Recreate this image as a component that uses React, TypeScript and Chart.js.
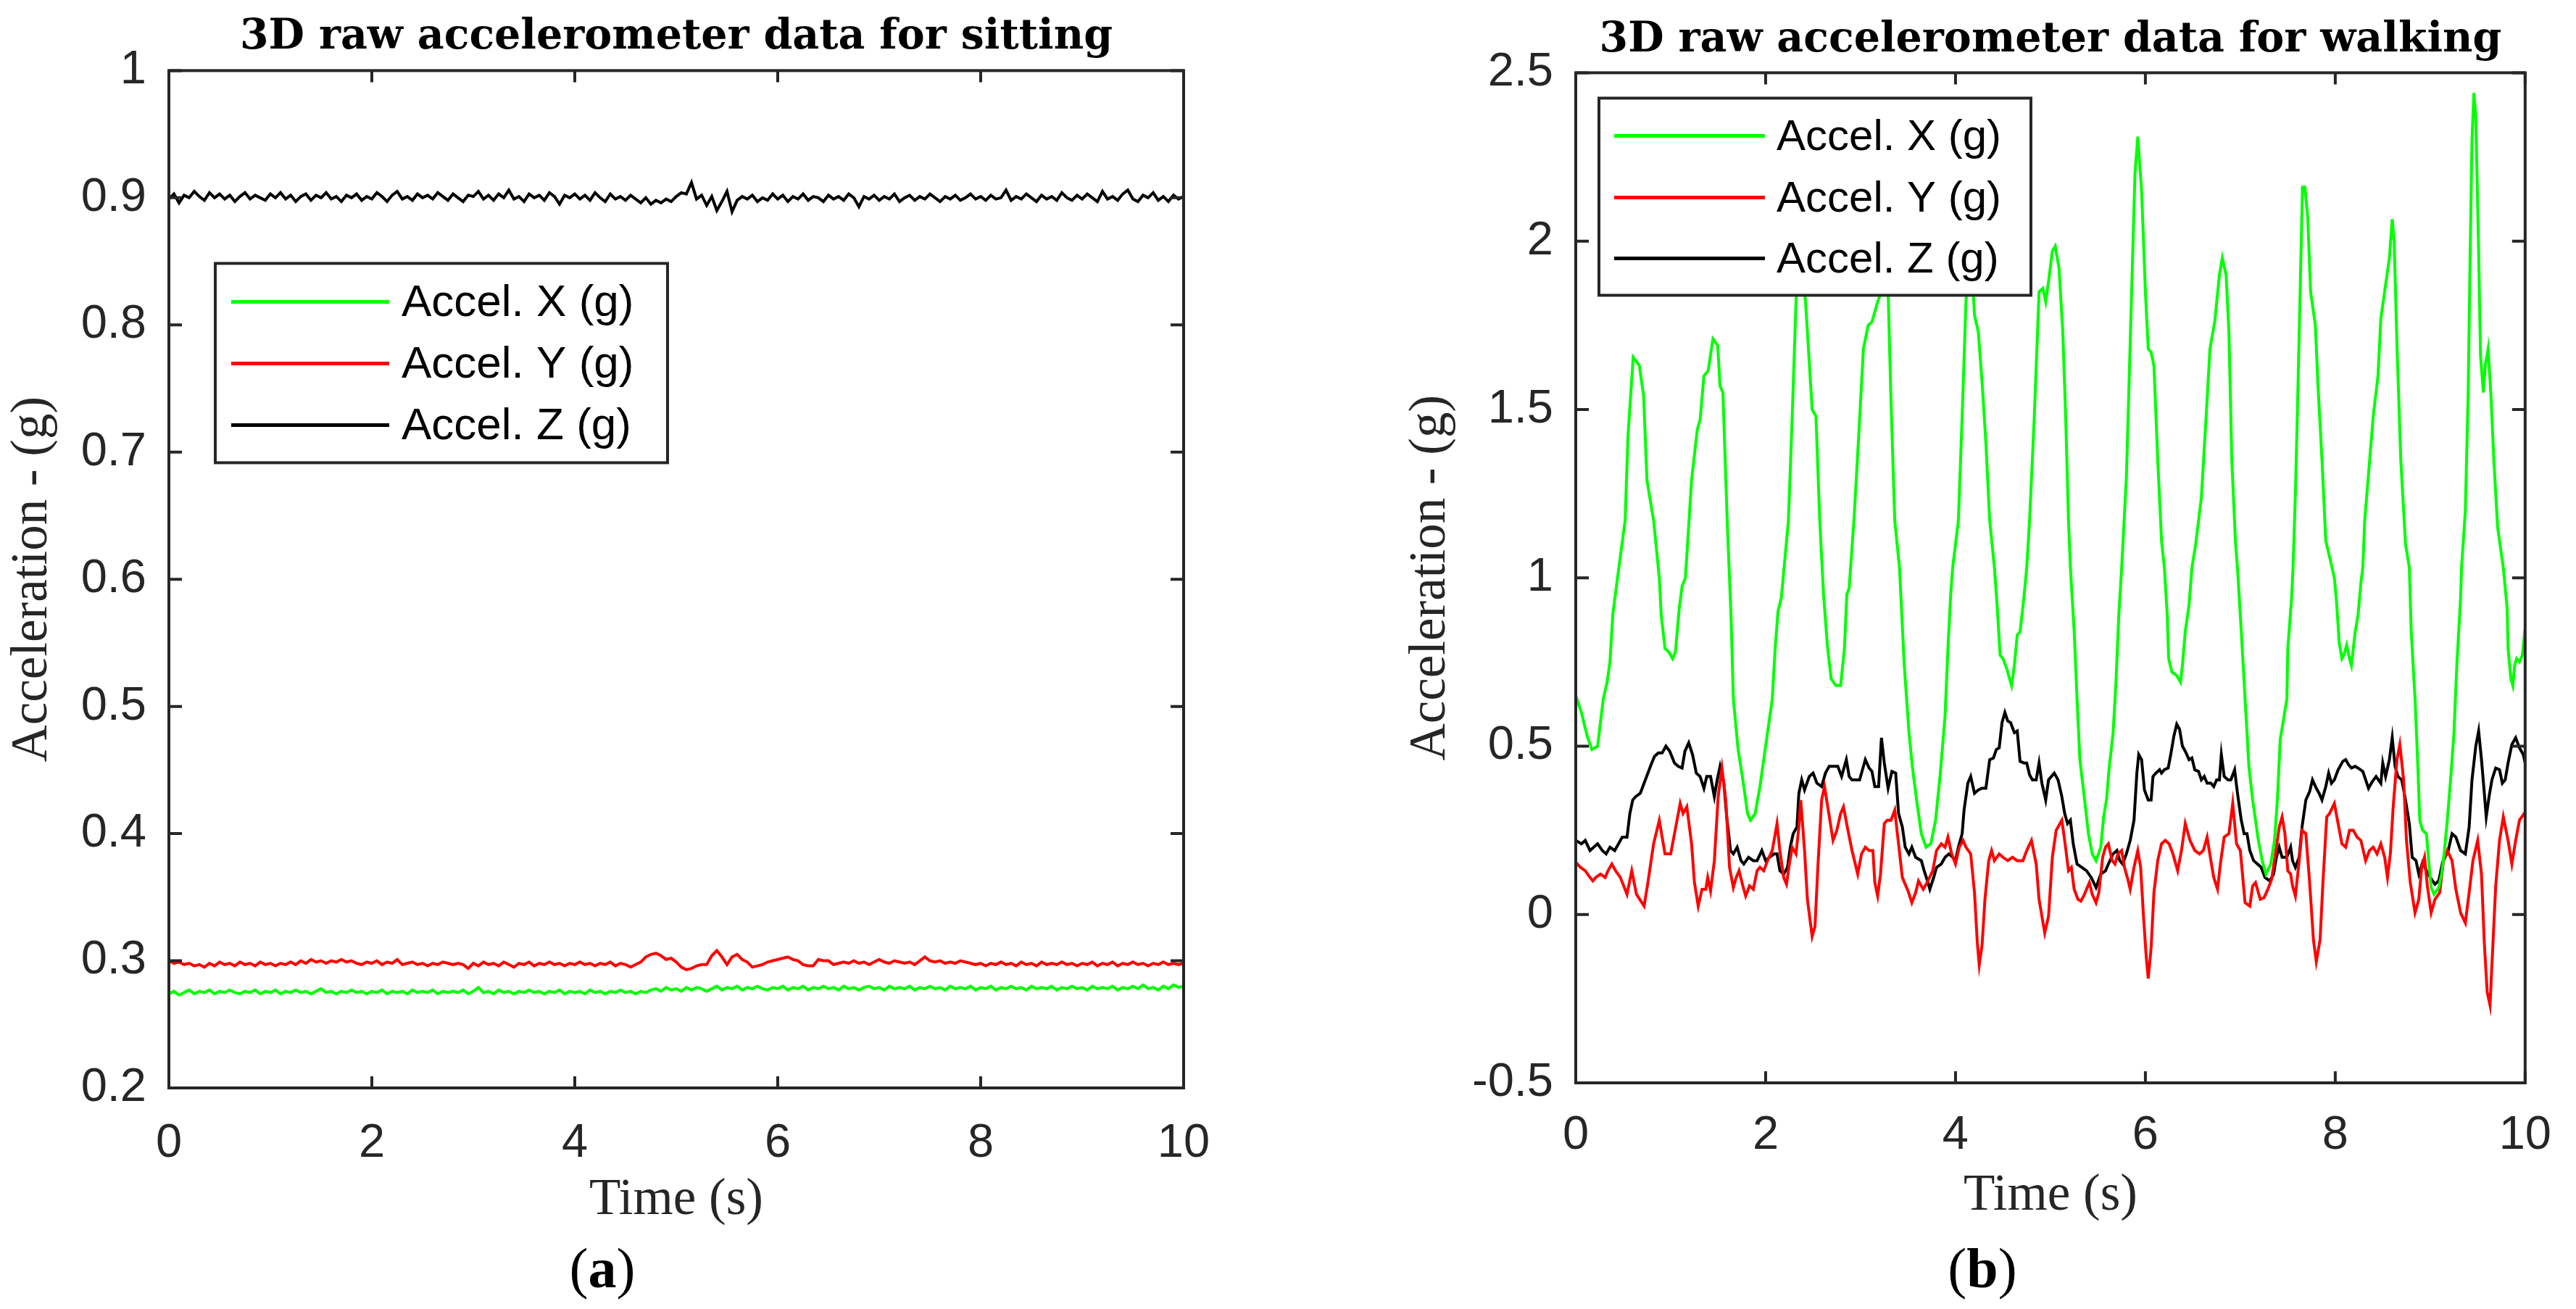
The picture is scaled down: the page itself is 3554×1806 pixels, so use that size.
import { useEffect, useRef } from "react";
import Chart from "chart.js/auto";

// sitting: one sample every 0.05 s, 0..10 s
const SIT_STEP = 0.05;

const sitAccelX = [
    0.274, 0.276, 0.273, 0.275, 0.277, 0.274, 0.276, 0.275, 0.277, 0.274, 0.276, 0.275, 0.277, 0.275, 0.274, 0.276, 0.275, 0.277, 0.274, 0.276,
    0.275, 0.277, 0.274, 0.276, 0.275, 0.277, 0.275, 0.276, 0.274, 0.276, 0.278, 0.275, 0.276, 0.274, 0.276, 0.275, 0.277, 0.275, 0.276, 0.274,
    0.276, 0.275, 0.277, 0.274, 0.276, 0.275, 0.276, 0.274, 0.277, 0.275, 0.276, 0.275, 0.277, 0.274, 0.276, 0.275, 0.276, 0.275, 0.277, 0.274,
    0.276, 0.279, 0.275, 0.276, 0.274, 0.277, 0.275, 0.276, 0.274, 0.276, 0.275, 0.277, 0.275, 0.276, 0.274, 0.276, 0.275, 0.277, 0.274, 0.276,
    0.275, 0.276, 0.274, 0.277, 0.275, 0.276, 0.274, 0.276, 0.275, 0.277, 0.275, 0.276, 0.274, 0.276, 0.275, 0.277, 0.278, 0.276, 0.279, 0.277,
    0.278, 0.276, 0.279, 0.277, 0.279, 0.278, 0.276, 0.278, 0.280, 0.277, 0.279, 0.278, 0.280, 0.277, 0.279, 0.278, 0.280, 0.278, 0.277, 0.279,
    0.278, 0.280, 0.277, 0.279, 0.278, 0.280, 0.277, 0.279, 0.278, 0.280, 0.278, 0.279, 0.277, 0.280, 0.278, 0.279, 0.277, 0.279, 0.280, 0.278,
    0.279, 0.277, 0.280, 0.278, 0.279, 0.278, 0.280, 0.277, 0.279, 0.278, 0.280, 0.278, 0.279, 0.277, 0.280, 0.278, 0.279, 0.278, 0.280, 0.277,
    0.279, 0.278, 0.280, 0.277, 0.279, 0.278, 0.280, 0.278, 0.279, 0.277, 0.280, 0.278, 0.279, 0.278, 0.280, 0.277, 0.279, 0.278, 0.280, 0.278,
    0.279, 0.277, 0.280, 0.278, 0.279, 0.278, 0.280, 0.277, 0.279, 0.278, 0.280, 0.278, 0.281, 0.278, 0.279, 0.277, 0.280, 0.278, 0.281, 0.279, 0.280
];

const sitAccelY = [
    0.300, 0.298, 0.299, 0.297, 0.298, 0.296, 0.297, 0.295, 0.298, 0.296, 0.299, 0.297, 0.298, 0.296, 0.299, 0.297, 0.298, 0.296, 0.299, 0.297,
    0.298, 0.296, 0.298, 0.297, 0.299, 0.297, 0.300, 0.298, 0.301, 0.299, 0.300, 0.298, 0.300, 0.299, 0.301, 0.299, 0.300, 0.298, 0.297, 0.299,
    0.298, 0.300, 0.297, 0.299, 0.298, 0.301, 0.297, 0.298, 0.299, 0.297, 0.298, 0.296, 0.298, 0.297, 0.299, 0.298, 0.297, 0.298, 0.297, 0.294,
    0.298, 0.296, 0.299, 0.297, 0.298, 0.296, 0.299, 0.297, 0.295, 0.298, 0.297, 0.299, 0.296, 0.298, 0.297, 0.299, 0.297, 0.298, 0.296, 0.298,
    0.297, 0.299, 0.297, 0.298, 0.296, 0.298, 0.297, 0.299, 0.296, 0.298, 0.297, 0.295, 0.297, 0.299, 0.303, 0.305, 0.306, 0.304, 0.301, 0.302,
    0.299, 0.295, 0.293, 0.294, 0.296, 0.297, 0.297, 0.304, 0.308, 0.303, 0.297, 0.303, 0.305, 0.301, 0.299, 0.295, 0.296, 0.297, 0.299, 0.300,
    0.301, 0.302, 0.303, 0.301, 0.300, 0.297, 0.296, 0.296, 0.301, 0.300, 0.300, 0.297, 0.298, 0.299, 0.298, 0.300, 0.298, 0.299, 0.297, 0.299,
    0.301, 0.299, 0.298, 0.300, 0.299, 0.298, 0.299, 0.297, 0.300, 0.303, 0.300, 0.299, 0.300, 0.298, 0.299, 0.298, 0.300, 0.299, 0.298, 0.297,
    0.298, 0.296, 0.298, 0.297, 0.299, 0.297, 0.298, 0.296, 0.299, 0.297, 0.298, 0.296, 0.299, 0.297, 0.298, 0.297, 0.299, 0.297, 0.298, 0.296,
    0.298, 0.297, 0.299, 0.296, 0.298, 0.297, 0.299, 0.296, 0.298, 0.297, 0.299, 0.297, 0.298, 0.296, 0.298, 0.297, 0.299, 0.297, 0.298, 0.297, 0.298
];

const sitAccelZ = [
    0.899, 0.903, 0.896, 0.902, 0.900, 0.905, 0.901, 0.898, 0.904, 0.900, 0.903, 0.899, 0.902, 0.897, 0.901, 0.904, 0.899, 0.902, 0.900, 0.898,
    0.903, 0.900, 0.904, 0.899, 0.902, 0.897, 0.901, 0.903, 0.898, 0.902, 0.900, 0.904, 0.899, 0.901, 0.897, 0.902, 0.900, 0.903, 0.898, 0.901,
    0.899, 0.904, 0.901, 0.897, 0.902, 0.905, 0.899, 0.901, 0.898, 0.903, 0.900, 0.902, 0.899, 0.904, 0.901, 0.898, 0.903, 0.900, 0.897, 0.902,
    0.901, 0.905, 0.899, 0.902, 0.898, 0.903, 0.900, 0.906, 0.899, 0.901, 0.897, 0.903, 0.900, 0.902, 0.898, 0.904, 0.901, 0.895, 0.902, 0.900,
    0.903, 0.899, 0.902, 0.898, 0.904, 0.900, 0.897, 0.903, 0.899, 0.901, 0.898, 0.902, 0.899, 0.896, 0.900, 0.895, 0.898, 0.896, 0.899, 0.897,
    0.901, 0.904, 0.903, 0.912, 0.899, 0.902, 0.894, 0.901, 0.890, 0.897, 0.905, 0.889, 0.898, 0.901, 0.899, 0.902, 0.897, 0.900, 0.898, 0.903,
    0.899, 0.902, 0.897, 0.901, 0.899, 0.903, 0.898, 0.901, 0.900, 0.897, 0.902, 0.899, 0.901, 0.898, 0.903, 0.900, 0.893, 0.901, 0.899, 0.902,
    0.898, 0.901, 0.899, 0.903, 0.897, 0.900, 0.902, 0.898, 0.901, 0.899, 0.903, 0.900, 0.897, 0.901, 0.899, 0.902, 0.898, 0.900, 0.903, 0.899,
    0.901, 0.898, 0.902, 0.899, 0.900, 0.906, 0.898, 0.901, 0.899, 0.903, 0.900, 0.897, 0.902, 0.899, 0.901, 0.898, 0.904, 0.900, 0.898, 0.902,
    0.899, 0.903, 0.900, 0.897, 0.905, 0.899, 0.901, 0.898, 0.903, 0.906, 0.899, 0.897, 0.902, 0.900, 0.904, 0.898, 0.901, 0.897, 0.902, 0.899, 0.901
];

// walking: [time (s), acceleration (g)]
const walkAccelX: [number, number][] = [
    [0.00, 0.65], [0.06, 0.60], [0.12, 0.53], [0.17, 0.49], [0.23, 0.50], [0.29, 0.64], [0.33, 0.69], [0.36, 0.75],
    [0.39, 0.89], [0.44, 1.00], [0.52, 1.17], [0.55, 1.42], [0.605, 1.655], [0.67, 1.63], [0.715, 1.54], [0.75, 1.29],
    [0.82, 1.17], [0.88, 1.00], [0.90, 0.89], [0.94, 0.79], [0.98, 0.78], [1.02, 0.76], [1.05, 0.78], [1.09, 0.91],
    [1.12, 0.975], [1.155, 1.00], [1.22, 1.29], [1.28, 1.44], [1.31, 1.47], [1.35, 1.60], [1.395, 1.615], [1.445, 1.71],
    [1.495, 1.69], [1.52, 1.57], [1.55, 1.55], [1.595, 1.17], [1.635, 0.89], [1.66, 0.64], [1.71, 0.49], [1.76, 0.40],
    [1.81, 0.30], [1.84, 0.28], [1.89, 0.30], [1.94, 0.38], [1.99, 0.48], [2.03, 0.56], [2.07, 0.64], [2.10, 0.79],
    [2.13, 0.90], [2.165, 0.94], [2.24, 1.17], [2.28, 1.48], [2.32, 1.82], [2.37, 2.02], [2.42, 1.82], [2.44, 1.73],
    [2.49, 1.50], [2.53, 1.48], [2.57, 1.17], [2.61, 0.95], [2.65, 0.80], [2.69, 0.70], [2.74, 0.68], [2.79, 0.68],
    [2.83, 0.79], [2.855, 0.95], [2.88, 0.97], [2.93, 1.17], [2.98, 1.42], [3.03, 1.68], [3.08, 1.75], [3.12, 1.76],
    [3.18, 1.82], [3.22, 1.85], [3.26, 1.95], [3.29, 1.85], [3.32, 1.53], [3.36, 1.17], [3.41, 1.03], [3.46, 0.74],
    [3.51, 0.54], [3.545, 0.44], [3.59, 0.34], [3.64, 0.24], [3.69, 0.20], [3.74, 0.21], [3.79, 0.28], [3.84, 0.42],
    [3.89, 0.59], [3.92, 0.79], [3.95, 0.955], [3.97, 1.03], [4.03, 1.17], [4.07, 1.48], [4.11, 1.82], [4.16, 2.00],
    [4.20, 1.78], [4.24, 1.73], [4.28, 1.58], [4.32, 1.40], [4.36, 1.17], [4.41, 1.03], [4.44, 0.91], [4.47, 0.77],
    [4.50, 0.76], [4.54, 0.73], [4.59, 0.68], [4.62, 0.74], [4.65, 0.83], [4.68, 0.84], [4.72, 0.94], [4.75, 1.03],
    [4.78, 1.17], [4.83, 1.48], [4.86, 1.70], [4.88, 1.85], [4.92, 1.86], [4.95, 1.82], [4.98, 1.88], [5.02, 1.97],
    [5.05, 1.985], [5.09, 1.92], [5.13, 1.73], [5.16, 1.48], [5.19, 1.17], [5.21, 1.03], [5.25, 0.84], [5.28, 0.64],
    [5.31, 0.46], [5.36, 0.34], [5.40, 0.24], [5.44, 0.18], [5.48, 0.16], [5.53, 0.20], [5.56, 0.29], [5.59, 0.34],
    [5.62, 0.44], [5.66, 0.54], [5.69, 0.69], [5.72, 0.89], [5.75, 1.03], [5.80, 1.30], [5.85, 1.80], [5.89, 2.20],
    [5.92, 2.31], [5.96, 2.15], [6.00, 1.85], [6.03, 1.68], [6.06, 1.67], [6.09, 1.63], [6.13, 1.35], [6.17, 1.11],
    [6.20, 1.03], [6.23, 0.89], [6.245, 0.76], [6.28, 0.72], [6.33, 0.71], [6.37, 0.69], [6.39, 0.74], [6.42, 0.84],
    [6.46, 0.92], [6.49, 1.03], [6.53, 1.10], [6.59, 1.24], [6.64, 1.48], [6.68, 1.68], [6.73, 1.76], [6.78, 1.90],
    [6.81, 1.95], [6.85, 1.90], [6.88, 1.73], [6.91, 1.35], [6.95, 1.10], [6.97, 1.03], [7.01, 0.84], [7.05, 0.64],
    [7.09, 0.44], [7.13, 0.34], [7.16, 0.28], [7.19, 0.22], [7.23, 0.16], [7.27, 0.12], [7.32, 0.15], [7.36, 0.22],
    [7.39, 0.34], [7.42, 0.52], [7.45, 0.57], [7.49, 0.64], [7.50, 0.79], [7.54, 0.94], [7.555, 1.03], [7.58, 1.25],
    [7.60, 1.48], [7.63, 1.85], [7.655, 2.16], [7.68, 2.16], [7.71, 2.07], [7.74, 1.85], [7.79, 1.75], [7.82, 1.56],
    [7.86, 1.35], [7.90, 1.11], [7.95, 1.05], [7.99, 1.00], [8.01, 0.94], [8.03, 0.86], [8.04, 0.81], [8.07, 0.76],
    [8.09, 0.77], [8.12, 0.80], [8.15, 0.76], [8.17, 0.74], [8.21, 0.84], [8.24, 0.89], [8.27, 0.985], [8.29, 1.03],
    [8.31, 1.17], [8.40, 1.48], [8.45, 1.60], [8.48, 1.77], [8.52, 1.85], [8.57, 1.95], [8.60, 2.065], [8.62, 2.00],
    [8.65, 1.69], [8.69, 1.35], [8.74, 1.10], [8.78, 1.03], [8.80, 0.84], [8.84, 0.64], [8.87, 0.44], [8.89, 0.28],
    [8.92, 0.25], [8.96, 0.24], [8.99, 0.14], [9.01, 0.08], [9.04, 0.06], [9.09, 0.08], [9.12, 0.12], [9.15, 0.19],
    [9.18, 0.28], [9.22, 0.42], [9.25, 0.54], [9.28, 0.74], [9.32, 0.94], [9.33, 1.03], [9.37, 1.20], [9.40, 1.55],
    [9.42, 1.95], [9.44, 2.30], [9.46, 2.44], [9.48, 2.37], [9.51, 1.97], [9.53, 1.66], [9.56, 1.55], [9.58, 1.63],
    [9.61, 1.68], [9.64, 1.54], [9.67, 1.35], [9.71, 1.15], [9.77, 1.03], [9.81, 0.91], [9.82, 0.79], [9.85, 0.70],
    [9.87, 0.68], [9.89, 0.74], [9.91, 0.76], [9.94, 0.75], [9.97, 0.77], [10.0, 0.85]
];

const walkAccelY: [number, number][] = [
    [0.00, 0.155], [0.05, 0.14], [0.10, 0.13], [0.15, 0.11], [0.18, 0.10], [0.21, 0.11], [0.26, 0.12], [0.31, 0.11],
    [0.34, 0.13], [0.38, 0.15], [0.42, 0.13], [0.47, 0.11], [0.54, 0.06], [0.59, 0.13], [0.64, 0.06], [0.72, 0.025],
    [0.76, 0.095], [0.82, 0.21], [0.88, 0.28], [0.94, 0.18], [1.00, 0.18], [1.06, 0.27], [1.10, 0.33], [1.13, 0.30],
    [1.17, 0.32], [1.22, 0.21], [1.25, 0.095], [1.29, 0.025], [1.33, 0.075], [1.37, 0.075], [1.39, 0.11], [1.42, 0.07],
    [1.46, 0.16], [1.50, 0.35], [1.54, 0.435], [1.58, 0.34], [1.62, 0.14], [1.66, 0.08], [1.69, 0.11], [1.72, 0.13],
    [1.76, 0.085], [1.79, 0.055], [1.83, 0.085], [1.87, 0.075], [1.91, 0.13], [1.94, 0.14], [1.98, 0.13], [2.02, 0.16],
    [2.07, 0.19], [2.12, 0.27], [2.15, 0.19], [2.19, 0.11], [2.22, 0.09], [2.25, 0.15], [2.28, 0.20], [2.32, 0.18],
    [2.35, 0.26], [2.37, 0.34], [2.41, 0.19], [2.44, 0.045], [2.49, -0.065], [2.52, -0.035], [2.55, 0.14], [2.59, 0.34],
    [2.62, 0.38], [2.66, 0.31], [2.71, 0.22], [2.75, 0.25], [2.79, 0.30], [2.82, 0.32], [2.86, 0.26], [2.91, 0.19],
    [2.97, 0.12], [3.01, 0.18], [3.05, 0.20], [3.09, 0.19], [3.13, 0.19], [3.15, 0.095], [3.18, 0.055], [3.21, 0.12],
    [3.25, 0.27], [3.28, 0.28], [3.32, 0.28], [3.36, 0.31], [3.40, 0.21], [3.44, 0.11], [3.50, 0.07], [3.54, 0.035],
    [3.58, 0.065], [3.61, 0.10], [3.66, 0.075], [3.71, 0.10], [3.76, 0.13], [3.80, 0.19], [3.85, 0.21], [3.89, 0.20],
    [3.92, 0.23], [3.96, 0.18], [4.00, 0.15], [4.04, 0.20], [4.08, 0.22], [4.11, 0.20], [4.16, 0.18], [4.20, 0.065],
    [4.23, -0.085], [4.25, -0.15], [4.28, -0.09], [4.31, 0.045], [4.35, 0.16], [4.38, 0.19], [4.41, 0.16], [4.46, 0.18],
    [4.50, 0.17], [4.55, 0.16], [4.60, 0.17], [4.65, 0.16], [4.71, 0.16], [4.75, 0.19], [4.80, 0.22], [4.85, 0.15],
    [4.88, 0.045], [4.91, -0.005], [4.94, -0.055], [4.98, -0.005], [5.02, 0.17], [5.06, 0.25], [5.08, 0.26], [5.12, 0.28],
    [5.15, 0.22], [5.19, 0.13], [5.22, 0.14], [5.25, 0.075], [5.29, 0.045], [5.32, 0.04], [5.35, 0.055], [5.41, 0.095],
    [5.44, 0.06], [5.48, 0.035], [5.51, 0.065], [5.55, 0.17], [5.58, 0.20], [5.61, 0.21], [5.65, 0.16], [5.68, 0.15],
    [5.71, 0.18], [5.75, 0.19], [5.78, 0.14], [5.81, 0.11], [5.84, 0.075], [5.88, 0.14], [5.92, 0.19], [5.95, 0.14],
    [5.98, -0.005], [6.01, -0.13], [6.03, -0.19], [6.06, -0.10], [6.09, 0.065], [6.13, 0.16], [6.17, 0.21], [6.21, 0.22],
    [6.25, 0.21], [6.29, 0.18], [6.34, 0.13], [6.38, 0.19], [6.42, 0.27], [6.47, 0.22], [6.52, 0.19], [6.57, 0.18],
    [6.61, 0.19], [6.65, 0.23], [6.69, 0.16], [6.72, 0.11], [6.76, 0.075], [6.79, 0.15], [6.83, 0.23], [6.88, 0.24],
    [6.92, 0.33], [6.96, 0.21], [7.00, 0.19], [7.05, 0.035], [7.10, 0.025], [7.13, 0.085], [7.16, 0.095], [7.21, 0.045],
    [7.25, 0.05], [7.29, 0.075], [7.33, 0.105], [7.37, 0.18], [7.41, 0.26], [7.44, 0.29], [7.47, 0.24], [7.50, 0.13],
    [7.53, 0.12], [7.55, 0.085], [7.58, 0.055], [7.62, 0.16], [7.65, 0.25], [7.69, 0.24], [7.73, 0.095], [7.77, -0.075],
    [7.80, -0.14], [7.84, -0.075], [7.87, 0.095], [7.91, 0.29], [7.94, 0.30], [7.99, 0.33], [8.03, 0.27], [8.07, 0.21],
    [8.11, 0.20], [8.15, 0.25], [8.19, 0.25], [8.23, 0.23], [8.27, 0.22], [8.32, 0.16], [8.36, 0.19], [8.40, 0.20],
    [8.44, 0.18], [8.48, 0.21], [8.52, 0.17], [8.55, 0.11], [8.58, 0.18], [8.61, 0.32], [8.65, 0.46], [8.68, 0.505],
    [8.72, 0.40], [8.75, 0.22], [8.79, 0.095], [8.84, 0.005], [8.88, 0.045], [8.91, 0.14], [8.94, 0.17], [8.97, 0.085],
    [9.01, 0.005], [9.05, 0.045], [9.10, 0.065], [9.14, 0.16], [9.18, 0.19], [9.23, 0.16], [9.27, 0.075], [9.32, 0.005],
    [9.37, -0.025], [9.41, 0.065], [9.45, 0.16], [9.50, 0.22], [9.54, 0.12], [9.57, -0.085], [9.60, -0.23], [9.63, -0.27],
    [9.65, -0.15], [9.69, 0.085], [9.73, 0.22], [9.77, 0.29], [9.82, 0.22], [9.86, 0.15], [9.90, 0.22], [9.94, 0.28],
    [9.99, 0.30], [10.0, 0.30]
];

const walkAccelZ: [number, number][] = [
    [0.00, 0.22], [0.06, 0.21], [0.10, 0.22], [0.15, 0.19], [0.19, 0.20], [0.23, 0.21], [0.28, 0.19], [0.32, 0.18],
    [0.36, 0.20], [0.41, 0.19], [0.45, 0.21], [0.49, 0.23], [0.54, 0.23], [0.57, 0.30], [0.60, 0.34], [0.63, 0.35],
    [0.68, 0.36], [0.72, 0.39], [0.76, 0.42], [0.80, 0.45], [0.83, 0.47], [0.87, 0.48], [0.91, 0.48], [0.95, 0.50],
    [0.99, 0.485], [1.04, 0.45], [1.08, 0.44], [1.12, 0.435], [1.15, 0.485], [1.19, 0.51], [1.23, 0.475], [1.27, 0.42],
    [1.31, 0.41], [1.35, 0.375], [1.38, 0.41], [1.42, 0.41], [1.46, 0.35], [1.49, 0.40], [1.52, 0.44], [1.56, 0.39],
    [1.59, 0.29], [1.63, 0.19], [1.66, 0.18], [1.70, 0.20], [1.74, 0.16], [1.77, 0.15], [1.82, 0.17], [1.87, 0.16],
    [1.91, 0.16], [1.96, 0.19], [2.00, 0.16], [2.04, 0.17], [2.09, 0.18], [2.12, 0.18], [2.15, 0.13], [2.19, 0.12],
    [2.23, 0.14], [2.26, 0.20], [2.29, 0.24], [2.33, 0.26], [2.35, 0.36], [2.38, 0.40], [2.41, 0.37], [2.46, 0.41],
    [2.50, 0.42], [2.54, 0.39], [2.59, 0.38], [2.63, 0.42], [2.67, 0.44], [2.72, 0.44], [2.76, 0.44], [2.80, 0.41],
    [2.85, 0.46], [2.88, 0.41], [2.91, 0.40], [2.95, 0.40], [2.99, 0.40], [3.05, 0.46], [3.09, 0.435], [3.12, 0.425],
    [3.15, 0.38], [3.19, 0.38], [3.22, 0.525], [3.25, 0.45], [3.29, 0.375], [3.33, 0.425], [3.37, 0.42], [3.40, 0.30],
    [3.44, 0.26], [3.47, 0.20], [3.51, 0.18], [3.54, 0.20], [3.58, 0.17], [3.64, 0.16], [3.67, 0.13], [3.71, 0.095],
    [3.73, 0.075], [3.77, 0.11], [3.80, 0.14], [3.85, 0.15], [3.89, 0.17], [3.93, 0.18], [3.97, 0.17], [4.00, 0.16],
    [4.03, 0.20], [4.07, 0.24], [4.09, 0.31], [4.13, 0.39], [4.16, 0.41], [4.20, 0.36], [4.24, 0.37], [4.28, 0.375],
    [4.32, 0.375], [4.36, 0.46], [4.40, 0.465], [4.43, 0.49], [4.46, 0.495], [4.49, 0.57], [4.52, 0.60], [4.55, 0.575],
    [4.58, 0.57], [4.62, 0.54], [4.65, 0.545], [4.68, 0.455], [4.72, 0.45], [4.75, 0.45], [4.78, 0.415], [4.81, 0.40],
    [4.85, 0.40], [4.88, 0.45], [4.91, 0.39], [4.95, 0.34], [4.98, 0.40], [5.04, 0.42], [5.08, 0.40], [5.12, 0.35],
    [5.15, 0.30], [5.18, 0.27], [5.21, 0.28], [5.24, 0.21], [5.28, 0.15], [5.33, 0.14], [5.38, 0.13], [5.43, 0.11],
    [5.48, 0.08], [5.53, 0.12], [5.58, 0.13], [5.61, 0.15], [5.66, 0.18], [5.70, 0.19], [5.73, 0.16], [5.76, 0.15],
    [5.80, 0.18], [5.84, 0.22], [5.88, 0.28], [5.91, 0.42], [5.93, 0.475], [5.96, 0.46], [5.99, 0.37], [6.03, 0.34],
    [6.06, 0.34], [6.08, 0.41], [6.11, 0.42], [6.15, 0.43], [6.17, 0.42], [6.20, 0.43], [6.24, 0.435], [6.27, 0.48],
    [6.30, 0.53], [6.33, 0.565], [6.36, 0.55], [6.39, 0.50], [6.42, 0.485], [6.46, 0.46], [6.49, 0.465], [6.52, 0.43],
    [6.56, 0.425], [6.59, 0.40], [6.62, 0.41], [6.65, 0.39], [6.69, 0.39], [6.72, 0.38], [6.75, 0.40], [6.78, 0.40],
    [6.80, 0.475], [6.83, 0.41], [6.87, 0.40], [6.90, 0.40], [6.94, 0.43], [6.97, 0.36], [7.01, 0.28], [7.04, 0.24],
    [7.07, 0.24], [7.10, 0.19], [7.14, 0.16], [7.18, 0.15], [7.22, 0.14], [7.26, 0.11], [7.31, 0.10], [7.35, 0.12],
    [7.38, 0.17], [7.41, 0.20], [7.44, 0.17], [7.49, 0.17], [7.53, 0.20], [7.55, 0.16], [7.58, 0.14], [7.62, 0.17],
    [7.65, 0.26], [7.69, 0.34], [7.73, 0.365], [7.76, 0.40], [7.80, 0.375], [7.83, 0.36], [7.86, 0.34], [7.90, 0.38],
    [7.93, 0.42], [7.96, 0.39], [7.99, 0.40], [8.03, 0.43], [8.08, 0.455], [8.11, 0.46], [8.14, 0.445], [8.17, 0.435],
    [8.21, 0.44], [8.24, 0.435], [8.29, 0.425], [8.32, 0.40], [8.35, 0.375], [8.39, 0.395], [8.43, 0.41], [8.48, 0.39],
    [8.50, 0.45], [8.53, 0.41], [8.57, 0.46], [8.60, 0.525], [8.63, 0.44], [8.66, 0.41], [8.70, 0.40], [8.74, 0.34],
    [8.78, 0.27], [8.81, 0.17], [8.85, 0.16], [8.88, 0.12], [8.92, 0.155], [8.96, 0.13], [9.00, 0.11], [9.05, 0.09],
    [9.09, 0.10], [9.13, 0.155], [9.19, 0.19], [9.23, 0.24], [9.27, 0.23], [9.32, 0.19], [9.37, 0.18], [9.41, 0.26],
    [9.44, 0.40], [9.48, 0.50], [9.51, 0.545], [9.54, 0.46], [9.57, 0.36], [9.59, 0.29], [9.62, 0.35], [9.65, 0.40],
    [9.69, 0.435], [9.73, 0.43], [9.76, 0.39], [9.79, 0.40], [9.82, 0.45], [9.86, 0.505], [9.90, 0.525], [9.94, 0.495],
    [9.98, 0.475], [10.0, 0.45]
];

const seriesLabels = ["Accel. X (g)", "Accel. Y (g)", "Accel. Z (g)"];
const seriesColors = ["#00ff00", "#ff0000", "#000000"];

const SANS = "'Liberation Sans', Arial, sans-serif";
const SERIF = "'Liberation Serif', 'Times New Roman', serif";
const AXIS_COLOR = "#262626";

interface LegendBox {
    dx: number;      // offset of the box from the top-left corner of the axes
    dy: number;
    w: number;
    h: number;
    lineFrom: number;
    lineTo: number;
    textAt: number;
    rows: number[];
    fontSize: number;
}

// MATLAB style box: full frame, inward ticks on all sides, boxed legend inside the axes
const matlabFrame = {
    id: "matlabFrame",
    afterDatasetsDraw(chart: any, _args: any, lg: LegendBox) {
        const { ctx, chartArea: a, scales } = chart;
        ctx.save();
        ctx.strokeStyle = AXIS_COLOR;
        ctx.lineWidth = 4;
        ctx.beginPath();
        for (const t of scales.x.ticks) {
            const px = scales.x.getPixelForValue(t.value);
            ctx.moveTo(px, a.bottom); ctx.lineTo(px, a.bottom - 16);
            ctx.moveTo(px, a.top); ctx.lineTo(px, a.top + 16);
        }
        for (const t of scales.y.ticks) {
            const py = scales.y.getPixelForValue(t.value);
            ctx.moveTo(a.left, py); ctx.lineTo(a.left + 18, py);
            ctx.moveTo(a.right, py); ctx.lineTo(a.right - 18, py);
        }
        ctx.stroke();
        ctx.strokeRect(a.left, a.top, a.right - a.left, a.bottom - a.top);

        const lx = a.left + lg.dx;
        const ly = a.top + lg.dy;
        ctx.fillStyle = "#ffffff";
        ctx.fillRect(lx, ly, lg.w, lg.h);
        ctx.strokeRect(lx, ly, lg.w, lg.h);
        ctx.font = lg.fontSize + "px " + SANS;
        ctx.textBaseline = "middle";
        ctx.textAlign = "left";
        chart.data.datasets.forEach((ds: any, i: number) => {
            const y = ly + lg.rows[i];
            ctx.strokeStyle = ds.borderColor;
            ctx.lineWidth = 5;
            ctx.beginPath();
            ctx.moveTo(lx + lg.lineFrom, y);
            ctx.lineTo(lx + lg.lineTo, y);
            ctx.stroke();
            ctx.fillStyle = "#000000";
            ctx.fillText(ds.label, lx + lg.textAt, y + 3);
        });
        ctx.restore();
    }
};

interface PanelProps {
    title: string;
    series: { x: number; y: number }[][];
    yMin: number;
    yMax: number;
    yStep: number;
    yAxisWidth: number;
    yTitlePad: number;
    rightPad: number;
    titlePad: { top: number; bottom: number };
    xAxisHeight: number;
    xTitlePad: number;
    xTickPad: number;
    legend: LegendBox;
}

function AccelPanel(p: PanelProps) {
    const canvasRef = useRef<HTMLCanvasElement | null>(null);
    const chartRef = useRef<Chart | null>(null);

    useEffect(() => {
        if (!canvasRef.current) return;
        if (chartRef.current) { chartRef.current.destroy(); }

        chartRef.current = new Chart(canvasRef.current, {
            type: "line",
            data: {
                datasets: p.series.map((pts, i) => ({
                    label: seriesLabels[i],
                    data: pts,
                    borderColor: seriesColors[i],
                    backgroundColor: seriesColors[i],
                    borderWidth: 4,
                    pointRadius: 0,
                    tension: 0,
                    fill: false,
                })),
            },
            options: {
                animation: false,
                responsive: false,
                devicePixelRatio: 1,
                events: [],
                layout: { padding: { left: 0, right: p.rightPad, top: 0, bottom: 0 } },
                plugins: {
                    legend: { display: false },
                    tooltip: { enabled: false },
                    title: {
                        display: true,
                        text: p.title,
                        fullSize: false,
                        color: "#000000",
                        font: { family: "'DejaVu Serif', serif", size: 57, weight: "bold" },
                        padding: p.titlePad,
                    },
                    matlabFrame: p.legend,
                } as any,
                scales: {
                    x: {
                        type: "linear",
                        min: 0,
                        max: 10,
                        ticks: {
                            stepSize: 2,
                            color: AXIS_COLOR,
                            font: { family: SANS, size: 65 },
                            padding: p.xTickPad,
                            maxRotation: 0,
                        },
                        grid: { display: false, drawTicks: false },
                        border: { display: false },
                        title: {
                            display: true,
                            text: "Time (s)",
                            color: AXIS_COLOR,
                            font: { family: SERIF, size: 71 },
                            padding: { top: 0, bottom: p.xTitlePad },
                        },
                        afterFit: (s: any) => { s.height = p.xAxisHeight; },
                    },
                    y: {
                        type: "linear",
                        min: p.yMin,
                        max: p.yMax,
                        ticks: {
                            stepSize: p.yStep,
                            color: AXIS_COLOR,
                            font: { family: SANS, size: 65 },
                            padding: 31,
                            callback: (v: any) => String(Number(Number(v).toFixed(2))),
                        },
                        grid: { display: false, drawTicks: false },
                        border: { display: false },
                        title: {
                            display: true,
                            text: "Acceleration - (g)",
                            color: AXIS_COLOR,
                            font: { family: SERIF, size: 71 },
                            padding: { top: p.yTitlePad, bottom: 0 },
                        },
                        afterFit: (s: any) => { s.width = p.yAxisWidth; },
                    },
                },
            },
            plugins: [matlabFrame],
        });

        return () => {
            if (chartRef.current) {
                chartRef.current.destroy();
                chartRef.current = null;
            }
        };
    }, []);

    return <canvas ref={canvasRef} width={1777} height={1700} style={{ display: "block", width: 1777, height: 1700 }} />;
}

const sitSeries = [sitAccelX, sitAccelY, sitAccelZ].map(vals => vals.map((v, i) => ({ x: i * SIT_STEP, y: v })));
const walkSeries = [walkAccelX, walkAccelY, walkAccelZ].map(pts => pts.map(([t, v]) => ({ x: t, y: v })));

const captionStyle = {
    position: "absolute" as const,
    top: 1705,
    width: 200,
    textAlign: "center" as const,
    fontFamily: SERIF,
    fontSize: 78,
    lineHeight: "90px",
    color: "#000000",
};

export default function App() {
    return (
        <div style={{ position: "fixed", left: 0, top: 0, width: 3554, height: 1806, background: "#ffffff", overflow: "hidden" }}>
            <div style={{ position: "absolute", left: 0, top: 0 }}>
                <AccelPanel
                    title="3D raw accelerometer data for sitting"
                    series={sitSeries}
                    yMin={0.2} yMax={1} yStep={0.1}
                    yAxisWidth={233} yTitlePad={3} rightPad={144}
                    titlePad={{ top: 18, bottom: 11 }}
                    xAxisHeight={199} xTitlePad={1} xTickPad={38}
                    legend={{ dx: 64, dy: 266, w: 624, h: 275, lineFrom: 22, lineTo: 240, textAt: 257, rows: [53, 138, 223], fontSize: 62 }}
                />
            </div>
            <div style={{ position: "absolute", left: 1777, top: 0 }}>
                <AccelPanel
                    title="3D raw accelerometer data for walking"
                    series={walkSeries}
                    yMin={-0.5} yMax={2.5} yStep={0.5}
                    yAxisWidth={397} yTitlePad={155} rightPad={44}
                    titlePad={{ top: 22, bottom: 10 }}
                    xAxisHeight={206} xTitlePad={7} xTickPad={34}
                    legend={{ dx: 32, dy: 35, w: 596, h: 272, lineFrom: 21, lineTo: 229, textAt: 245, rows: [52, 137, 221], fontSize: 60 }}
                />
            </div>
            <div style={{ ...captionStyle, left: 831 - 100 }}>(<b>a</b>)</div>
            <div style={{ ...captionStyle, left: 2735 - 100 }}>(<b>b</b>)</div>
        </div>
    );
}
